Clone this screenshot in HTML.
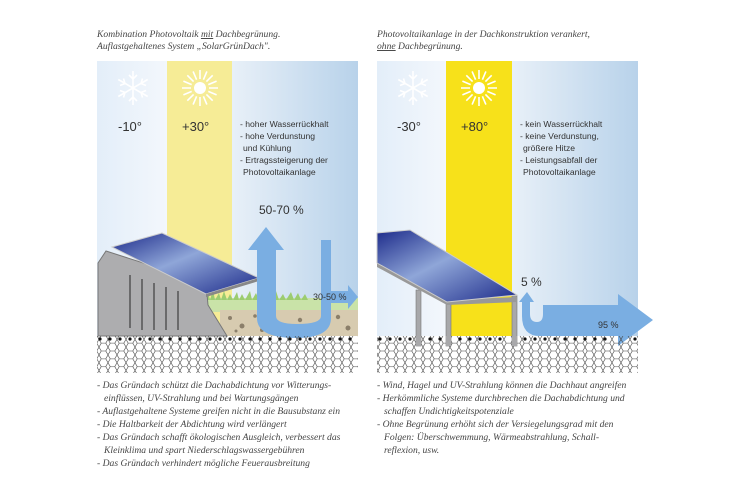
<!DOCTYPE html>
<html><head><meta charset="utf-8"><style>
body{margin:0;background:#fff}
svg{display:block}
.t{font-family:"Liberation Serif",serif;font-style:italic;font-size:9.6px;fill:#444;letter-spacing:0}
.s{font-family:"Liberation Sans",sans-serif;fill:#333}
</style></head><body>
<svg width="750" height="492" viewBox="0 0 750 492" xmlns="http://www.w3.org/2000/svg">
<defs>
<linearGradient id="cold" x1="0" x2="1"><stop offset="0" stop-color="#e3eef9"/><stop offset="1" stop-color="#f3f7fc"/></linearGradient>
<linearGradient id="bl" x1="0" x2="1"><stop offset="0" stop-color="#e8f0f8"/><stop offset="1" stop-color="#b8d2ea"/></linearGradient>
<linearGradient id="pv" x1="0" y1="0" x2="1" y2="1"><stop offset="0" stop-color="#1c2a8a"/><stop offset=".45" stop-color="#8fa6d8"/><stop offset="1" stop-color="#1c2a8a"/></linearGradient>
<pattern id="hex" width="9" height="7.8" patternUnits="userSpaceOnUse">
<path d="M0 3.9 L2.25 0 L6.75 0 L9 3.9 L6.75 7.8 L2.25 7.8 Z" fill="none" stroke="#444" stroke-width=".6"/>
</pattern>
<g id="snow" stroke="#fff" stroke-width="1.6" fill="none">
<path d="M0 -17V17M-14.7 -8.5L14.7 8.5M-14.7 8.5L14.7 -8.5"/>
<path d="M-4 -13L0 -9L4 -13M-4 13L0 9L4 13M-13 -2.5L-8 -4.5L-9.5 -9.5M13 2.5L8 4.5L9.5 9.5M-13 2.5L-8 4.5L-9.5 9.5M13 -2.5L8 -4.5L9.5 -9.5"/>
</g>
<g id="sun" stroke="#fff" stroke-width="1.6">
<circle r="6" fill="#fff" stroke="none"/>
<path d="M0 -9V-18M0 9V18M-9 0H-18M9 0H18M6.4 6.4L12.7 12.7M-6.4 -6.4L-12.7 -12.7M6.4 -6.4L12.7 -12.7M-6.4 6.4L-12.7 12.7M3.4 -8.3L6.9 -16.6M-3.4 8.3L-6.9 16.6M8.3 3.4L16.6 6.9M-8.3 -3.4L-16.6 -6.9M3.4 8.3L6.9 16.6M-3.4 -8.3L-6.9 -16.6M8.3 -3.4L16.6 -6.9M-8.3 3.4L-16.6 6.9"/>
</g>
</defs>
<text class="t" x="97" y="37">Kombination Photovoltaik <tspan text-decoration="underline">mit</tspan> Dachbegrünung.</text>
<text class="t" x="97" y="49">Auflastgehaltenes System „SolarGrünDach".</text>
<text class="t" x="377" y="37">Photovoltaikanlage in der Dachkonstruktion verankert,</text>
<text class="t" x="377" y="49"><tspan text-decoration="underline">ohne</tspan> Dachbegrünung.</text>

<!-- LEFT -->
<rect x="97" y="61" width="70" height="275" fill="url(#cold)"/>
<rect x="167" y="61" width="65" height="275" fill="#f6ec96"/>
<rect x="232" y="61" width="126" height="275" fill="url(#bl)"/>
<use href="#snow" x="133" y="88"/><use href="#sun" x="200" y="88"/>
<text class="s" x="118" y="131" font-size="13">-10°</text>
<text class="s" x="182" y="131" font-size="13">+30°</text>
<g class="s" font-size="8.6"><text x="240" y="127">- hoher Wasserrückhalt</text><text x="240" y="139">- hohe Verdunstung</text><text x="243" y="151">und Kühlung</text><text x="240" y="163">- Ertragssteigerung der</text><text x="243" y="175">Photovoltaikanlage</text></g>
<rect x="205" y="298" width="153" height="14" fill="#c9e3a8"/>
<path d="M205 300 l3 -8 l2 8 l3 -10 l2 10 l4 -7 l2 7 l3 -9 l3 9 l3 -6 l3 6 l4 -8 l2 8 l3 -6 l3 6 l5 -9 l2 9 l4 -7 l3 7 l3 -8 l3 8 l4 -7 l3 7 l4 -9 l3 9 l4 -6 l3 6 l5 -8 l3 8 l4 -7 l3 7 l4 -6 l3 6 Z" fill="#9ccc70"/>
<rect x="220" y="310" width="138" height="26" fill="#d7cbb0"/>
<g fill="#8b7f6a"><circle cx="230" cy="318" r="2"/><circle cx="242" cy="326" r="2.5"/><circle cx="255" cy="316" r="1.8"/><circle cx="262" cy="330" r="2"/><circle cx="300" cy="320" r="2.2"/><circle cx="312" cy="330" r="1.8"/><circle cx="338" cy="317" r="2.2"/><circle cx="348" cy="328" r="2.5"/><circle cx="236" cy="331" r="1.5"/><circle cx="327" cy="324" r="1.6"/></g>
<path d="M98 336 L98 263 L106 251 L206 283 L208 305 L227 336 Z" fill="#adadaf" stroke="#777" stroke-width="1"/>
<g stroke="#555" stroke-width="1.5"><path d="M130 275V328M142 279V330M154 283V330M166 287V330M178 291V330"/></g>
<path d="M112 247 L162 233 L259 278 L206 294 Z" fill="url(#pv)" stroke="#ccc" stroke-width="1"/>
<path d="M206 294 L259 278 L259 281 L206 297 Z" fill="#888"/>
<path d="M266 227 L284 250 L276 250 L276 316 Q276 324 297 324 Q321 324 321 316 L321 240 L331 240 L331 291 L348 291 L348 285 L358 297 L348 309 L348 303 L331 303 L331 318 Q331 338 296 338 Q257 338 257 318 L257 250 L248 250 Z" fill="#7aaee2"/>
<text class="s" x="259" y="214" font-size="12">50-70 %</text>
<text class="s" x="313" y="300" font-size="9">30-50 %</text>
<rect x="97" y="336" width="261" height="37" fill="url(#hex)"/>
<g fill="#111"><circle cx="100" cy="339" r="1.6"/><circle cx="110" cy="339" r="1.6"/><circle cx="120" cy="339" r="1.6"/><circle cx="130" cy="339" r="1.6"/><circle cx="140" cy="339" r="1.6"/><circle cx="150" cy="339" r="1.6"/><circle cx="160" cy="339" r="1.6"/><circle cx="170" cy="339" r="1.6"/><circle cx="180" cy="339" r="1.6"/><circle cx="190" cy="339" r="1.6"/><circle cx="200" cy="339" r="1.6"/><circle cx="210" cy="339" r="1.6"/><circle cx="220" cy="339" r="1.6"/><circle cx="230" cy="339" r="1.6"/><circle cx="240" cy="339" r="1.6"/><circle cx="250" cy="339" r="1.6"/><circle cx="260" cy="339" r="1.6"/><circle cx="270" cy="339" r="1.6"/><circle cx="280" cy="339" r="1.6"/><circle cx="290" cy="339" r="1.6"/><circle cx="300" cy="339" r="1.6"/><circle cx="310" cy="339" r="1.6"/><circle cx="320" cy="339" r="1.6"/><circle cx="330" cy="339" r="1.6"/><circle cx="340" cy="339" r="1.6"/><circle cx="350" cy="339" r="1.6"/></g>

<!-- RIGHT -->
<rect x="377" y="61" width="69" height="275" fill="url(#cold)"/>
<rect x="446" y="61" width="66" height="275" fill="#f7e11a"/>
<rect x="512" y="61" width="126" height="275" fill="url(#bl)"/>
<use href="#snow" x="413" y="88"/><use href="#sun" x="479" y="88"/>
<text class="s" x="397" y="131" font-size="13">-30°</text>
<text class="s" x="461" y="131" font-size="13">+80°</text>
<g class="s" font-size="8.6"><text x="520" y="127">- kein Wasserrückhalt</text><text x="520" y="139">- keine  Verdunstung,</text><text x="523" y="151">größere Hitze</text><text x="520" y="163">- Leistungsabfall der</text><text x="523" y="175">Photovoltaikanlage</text></g>
<g fill="#a8a8aa" stroke="#777" stroke-width=".6"><rect x="416" y="290" width="5" height="56"/><rect x="446" y="300" width="5" height="46"/><rect x="512" y="296" width="5" height="50"/></g>
<path d="M377 262 L447 300 L517 297 L517 302 L447 305 L377 267 Z" fill="#999"/>
<path d="M377 233 L410 230 L517 295 L447 302 L377 263 Z" fill="url(#pv)" stroke="#ccc" stroke-width="1"/>
<path d="M527 292 L534 302 L530 302 L530 314 Q530 322 537 322 Q543 322 543 314 L543 305 L618 305 L618 294 L653 320 L618 346 L618 336 L540 336 Q522 336 522 316 L522 302 L519 302 Z" fill="#7aaee2"/>
<text class="s" x="521" y="286" font-size="12">5 %</text>
<text class="s" x="598" y="328" font-size="9">95 %</text>
<rect x="377" y="336" width="261" height="37" fill="url(#hex)"/>
<g fill="#111"><circle cx="380" cy="339" r="1.6"/><circle cx="390" cy="339" r="1.6"/><circle cx="400" cy="339" r="1.6"/><circle cx="410" cy="339" r="1.6"/><circle cx="430" cy="339" r="1.6"/><circle cx="440" cy="339" r="1.6"/><circle cx="460" cy="339" r="1.6"/><circle cx="470" cy="339" r="1.6"/><circle cx="480" cy="339" r="1.6"/><circle cx="490" cy="339" r="1.6"/><circle cx="500" cy="339" r="1.6"/><circle cx="525" cy="339" r="1.6"/><circle cx="535" cy="339" r="1.6"/><circle cx="545" cy="339" r="1.6"/><circle cx="555" cy="339" r="1.6"/><circle cx="565" cy="339" r="1.6"/><circle cx="575" cy="339" r="1.6"/><circle cx="585" cy="339" r="1.6"/><circle cx="595" cy="339" r="1.6"/><circle cx="605" cy="339" r="1.6"/><circle cx="635" cy="339" r="1.6"/></g>
<g fill="#a8a8aa"><rect x="416" y="336" width="5" height="10"/><rect x="446" y="336" width="5" height="10"/><rect x="512" y="336" width="5" height="10"/></g>

<!-- bottom text -->
<g class="t">
<text x="97" y="388">- Das Gründach schützt die Dachabdichtung vor Witterungs-</text>
<text x="104" y="401">einflüssen, UV-Strahlung und bei Wartungsgängen</text>
<text x="97" y="414">- Auflastgehaltene Systeme greifen nicht in die Bausubstanz ein</text>
<text x="97" y="427">- Die Haltbarkeit der Abdichtung wird verlängert</text>
<text x="97" y="440">- Das Gründach schafft ökologischen Ausgleich, verbessert das</text>
<text x="104" y="453">Kleinklima und spart Niederschlagswassergebühren</text>
<text x="97" y="466">- Das Gründach verhindert mögliche Feuerausbreitung</text>
<text x="377" y="388">- Wind, Hagel und UV-Strahlung können die Dachhaut angreifen</text>
<text x="377" y="401">- Herkömmliche Systeme durchbrechen die Dachabdichtung und</text>
<text x="384" y="414">schaffen Undichtigkeitspotenziale</text>
<text x="377" y="427">- Ohne Begrünung erhöht sich der Versiegelungsgrad mit den</text>
<text x="384" y="440">Folgen: Überschwemmung, Wärmeabstrahlung, Schall-</text>
<text x="384" y="453">reflexion, usw.</text>
</g>
</svg>
</body></html>
